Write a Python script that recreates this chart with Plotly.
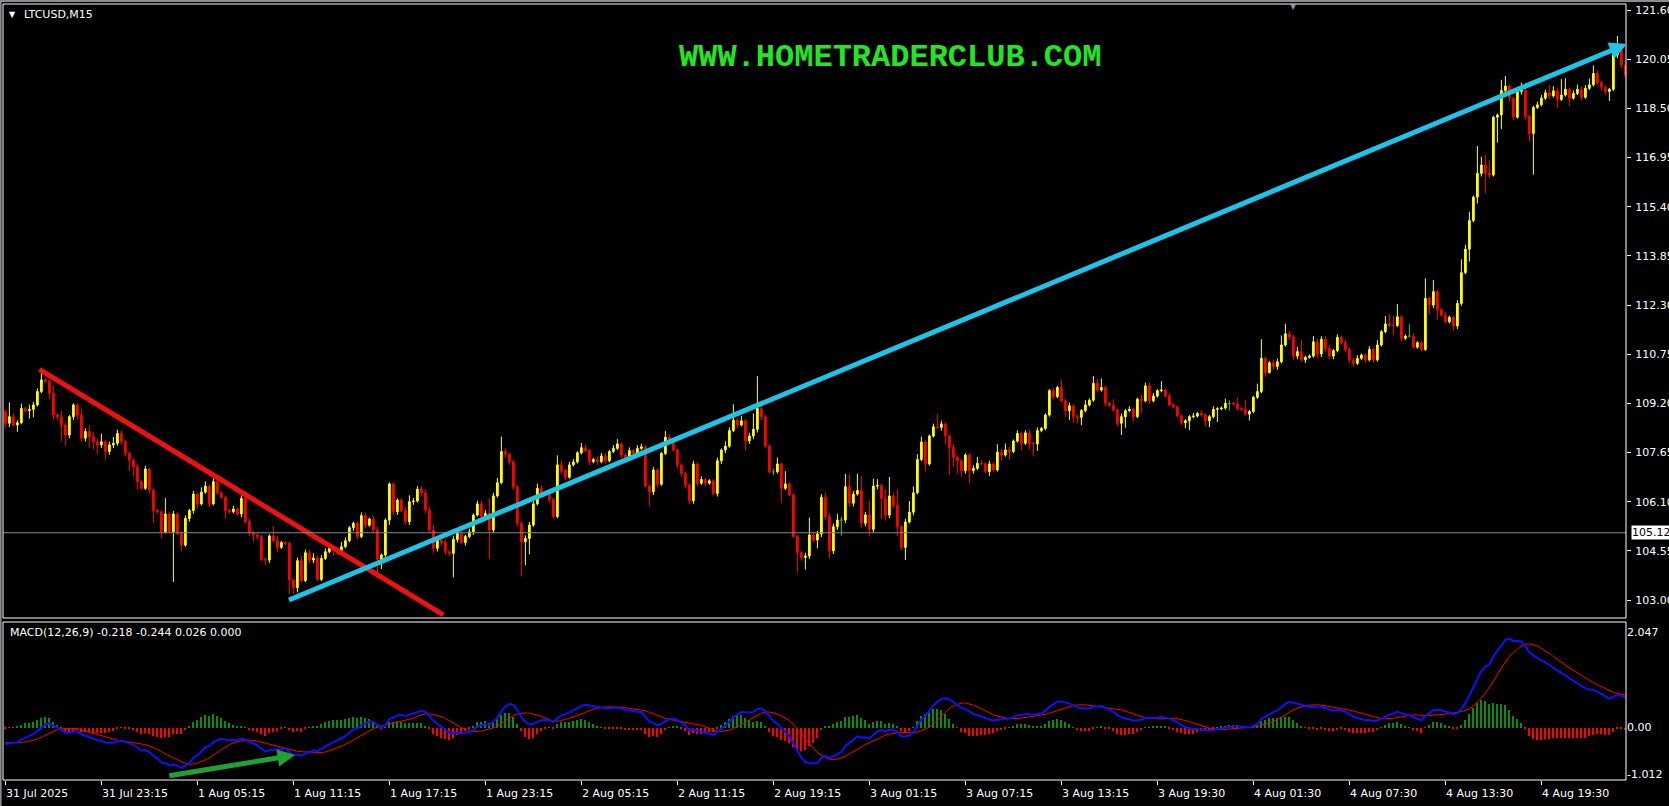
import plotly.graph_objects as go

# ---------------- data ----------------
close = [
    108.57,108.78,108.52,108.59,109.04,108.97,109.01,109.15,109.57,109.94,
    109.90,109.52,108.83,108.78,108.52,108.20,108.78,109.15,108.83,108.10,
    108.31,108.15,107.99,107.89,107.99,107.68,107.89,107.94,108.25,107.99,
    107.62,107.41,107.20,106.73,106.52,107.13,106.47,105.82,105.78,105.15,
    105.71,105.15,105.71,105.10,104.73,105.57,105.82,106.34,106.03,106.40,
    106.59,106.03,106.73,106.38,106.24,105.82,105.78,105.87,105.71,106.20,
    105.47,105.12,105.05,105.00,104.28,104.26,105.02,104.87,104.66,104.81,
    104.79,103.63,103.39,104.24,103.61,104.49,104.26,104.32,103.65,104.31,
    104.52,104.63,104.55,104.52,104.68,104.87,105.28,105.42,105.00,105.66,
    105.36,105.55,105.21,104.28,104.42,105.52,106.66,105.78,106.15,105.82,
    105.47,106.10,106.12,106.49,106.38,105.84,105.21,104.63,104.89,104.81,
    104.52,104.47,104.91,105.10,104.81,105.00,105.15,105.68,106.03,105.63,
    105.73,105.21,106.28,106.70,107.68,107.60,107.36,106.57,105.42,104.84,
    104.94,105.36,106.03,106.52,106.36,106.36,106.17,105.63,107.26,107.08,
    106.87,107.26,107.35,107.64,107.80,107.71,107.36,107.43,107.36,107.54,
    107.39,107.68,107.78,107.92,107.57,107.50,107.71,107.62,107.78,107.83,
    106.59,106.41,107.10,106.65,107.62,108.13,108.06,107.73,107.26,106.99,
    106.62,106.13,107.29,106.68,106.80,106.68,106.76,106.36,107.39,107.73,
    107.85,108.34,108.67,108.52,108.65,108.02,108.17,108.38,109.04,108.78,
    107.85,107.04,107.04,107.29,106.52,106.66,106.31,105.00,104.49,104.34,
    104.39,105.05,104.89,105.08,106.24,105.63,104.55,105.31,105.52,105.52,
    106.57,106.05,106.34,106.45,105.42,105.68,105.23,106.59,106.61,106.20,
    105.68,106.28,105.99,105.31,104.66,105.46,105.77,106.38,107.43,107.98,
    107.29,108.17,108.46,108.44,108.55,108.17,107.81,107.50,107.39,107.08,
    107.57,107.08,107.15,107.31,107.29,107.05,107.29,107.10,107.66,107.57,
    107.73,107.68,108.01,108.25,107.94,108.27,107.94,107.92,108.34,108.41,
    108.83,109.60,109.41,109.70,109.28,108.97,109.12,108.78,108.76,108.97,
    109.15,109.30,109.83,109.62,109.70,109.20,109.13,108.99,108.57,108.78,
    108.97,109.01,108.78,109.33,109.28,109.75,109.28,109.43,109.60,109.62,
    109.43,109.15,109.09,108.80,108.59,108.65,108.78,108.80,108.88,108.83,
    108.65,108.78,109.01,109.03,109.05,109.20,109.20,109.18,109.04,109.01,
    108.86,108.94,109.39,109.57,110.62,110.17,110.48,110.36,110.51,111.04,
    111.39,111.30,110.69,110.83,110.57,110.65,110.69,111.14,110.76,111.22,
    110.93,110.69,110.86,111.28,111.11,110.90,110.57,110.46,110.62,110.72,
    110.57,110.90,110.57,111.04,111.46,111.70,111.66,111.65,111.93,111.25,
    111.32,111.32,110.97,111.11,110.90,112.51,112.30,112.72,112.16,111.98,
    111.77,111.91,111.64,112.35,113.32,114.06,114.96,115.70,116.45,116.71,
    116.45,116.40,118.22,118.29,119.06,119.20,118.82,118.22,119.03,119.08,
    118.24,117.71,118.53,118.61,118.82,118.99,118.89,119.05,118.78,118.92,
    119.10,118.82,118.97,119.10,118.85,119.13,119.24,119.60,119.31,119.16,
    119.03,119.10,120.18,120.34,119.87,119.55,
]
upper_shadow = [
    0.05,0.45,0.10,0.08,0.15,0.05,0.15,0.10,0.10,0.21,
    0.05,0.05,0.25,0.05,0.18,0.05,0.05,0.05,0.05,0.20,
    0.10,0.20,0.15,0.10,0.25,0.05,0.10,0.20,0.12,0.10,
    0.05,0.05,0.05,0.10,0.05,0.10,0.05,0.05,0.05,0.05,
    0.50,0.05,0.10,0.05,0.05,0.10,0.05,0.10,0.05,0.15,
    0.15,0.05,0.10,0.05,0.05,0.05,0.05,0.10,0.05,0.10,
    0.05,0.10,0.05,0.05,0.05,0.05,0.05,0.30,0.15,0.05,
    0.05,0.05,0.05,0.10,0.15,0.10,0.10,0.15,0.10,0.10,
    0.10,0.05,0.05,0.10,0.15,0.10,0.05,0.05,0.05,0.10,
    0.10,0.05,0.10,0.10,0.05,0.05,0.05,0.05,0.05,0.05,
    0.10,0.20,0.10,0.10,0.10,0.10,0.10,0.15,0.10,0.10,
    0.10,0.05,0.10,0.05,0.10,0.05,0.10,0.05,0.10,0.10,
    0.10,0.48,0.10,0.15,0.47,0.10,0.05,0.05,0.05,0.05,
    0.10,0.10,0.10,0.15,0.10,0.05,0.05,0.05,0.30,0.15,
    0.05,0.10,0.10,0.05,0.15,0.10,0.05,0.05,0.10,0.10,
    0.10,0.05,0.10,0.15,0.05,0.05,0.10,0.05,0.10,0.10,
    0.05,0.05,0.10,0.05,0.05,0.20,0.10,0.05,0.05,0.05,
    0.05,0.05,0.10,0.05,0.10,0.05,0.05,0.05,0.10,0.05,
    0.15,0.10,0.50,0.10,0.15,0.05,0.10,0.50,1.02,0.10,
    0.05,0.05,0.10,0.20,0.05,0.40,0.05,0.05,0.05,0.05,
    0.10,0.55,0.10,0.10,0.10,0.15,0.10,0.10,0.20,0.10,
    0.40,0.40,0.10,0.53,0.45,0.10,0.45,0.24,0.20,0.05,
    0.30,0.60,0.10,0.50,0.05,0.10,0.35,0.20,0.17,0.17,
    0.05,0.05,0.10,0.40,0.10,0.05,0.05,0.10,0.05,0.05,
    0.05,0.05,0.10,0.20,0.10,0.05,0.10,0.05,0.25,0.10,
    0.20,0.10,0.05,0.10,0.05,0.08,0.10,0.05,0.10,0.05,
    0.05,0.05,0.10,0.05,0.25,0.05,0.10,0.05,0.05,0.05,
    0.15,0.05,0.23,0.15,0.28,0.05,0.05,0.20,0.05,0.10,
    0.05,0.10,0.05,0.05,0.15,0.10,0.10,0.10,0.05,0.28,
    0.05,0.10,0.05,0.05,0.05,0.05,0.05,0.10,0.05,0.10,
    0.05,0.05,0.10,0.05,0.05,0.15,0.10,0.05,0.20,0.05,
    0.30,0.05,0.05,0.25,0.60,0.05,0.05,0.10,0.10,0.30,
    0.32,0.10,0.05,0.15,0.37,0.05,0.05,0.18,0.10,0.10,
    0.10,0.10,0.05,0.10,0.05,0.10,0.05,0.05,0.10,0.05,
    0.05,0.10,0.05,0.15,0.05,0.25,0.30,0.30,0.40,0.05,
    0.05,0.38,0.10,0.05,0.05,0.63,0.05,0.37,0.05,0.05,
    0.10,0.05,0.05,0.10,0.42,0.14,0.28,0.05,0.86,0.26,
    0.32,0.40,0.05,0.05,0.34,0.32,0.05,0.05,0.15,0.23,
    0.23,0.05,0.05,0.10,0.10,0.10,0.25,0.15,0.10,0.50,
    0.35,0.05,0.10,0.15,0.10,0.10,0.20,0.25,0.10,0.05,
    0.05,0.05,0.10,0.44,0.10,0.05,
]
lower_shadow = [
    0.16,0.12,0.05,0.22,0.05,0.05,0.25,0.25,0.05,0.05,
    0.05,0.20,0.15,0.10,0.52,0.32,0.10,0.10,0.15,0.10,
    0.10,0.35,0.25,0.30,0.10,0.25,0.10,0.10,0.08,0.10,
    0.10,0.35,0.30,0.25,0.05,0.05,0.10,0.40,0.05,0.20,
    0.05,0.05,1.58,0.05,0.20,0.05,0.10,0.10,0.15,0.05,
    0.05,0.10,0.05,0.05,0.05,0.25,0.05,0.05,0.05,0.10,
    0.05,0.10,0.20,0.10,0.05,0.15,0.10,0.05,0.15,0.05,
    0.05,0.45,0.20,0.15,0.05,0.05,0.10,0.10,0.05,0.05,
    0.05,0.05,0.15,0.10,0.05,0.05,0.05,0.10,0.10,0.05,
    0.10,0.05,0.10,0.60,0.30,0.10,0.15,0.10,0.10,0.05,
    0.10,0.10,0.10,0.05,0.10,0.10,0.10,0.15,0.10,0.10,
    0.10,0.10,0.76,0.10,0.05,0.10,0.05,0.10,0.05,0.10,
    0.05,0.92,0.10,0.05,0.05,0.10,0.10,0.10,0.10,1.10,
    0.74,0.50,0.05,0.05,0.10,0.05,0.10,0.05,0.05,0.10,
    0.10,0.05,0.05,0.05,0.05,0.05,0.10,0.05,0.10,0.05,
    0.10,0.05,0.05,0.05,0.10,0.10,0.05,0.05,0.05,0.05,
    0.05,0.45,0.10,0.10,0.05,0.05,0.05,0.05,0.10,0.10,
    0.10,0.10,0.10,0.10,0.05,0.10,0.05,0.05,0.10,0.10,
    0.10,0.05,0.05,0.10,0.05,0.30,0.10,0.10,0.10,0.10,
    0.05,0.05,0.10,0.05,0.47,0.05,0.05,0.05,0.63,0.10,
    0.38,0.10,0.05,0.26,0.10,0.10,0.24,0.10,0.10,0.50,
    0.10,0.10,0.10,0.05,0.16,0.10,0.23,0.10,0.10,0.66,
    0.18,0.10,0.10,0.30,0.10,0.40,0.05,0.10,0.05,0.05,
    0.24,0.05,0.05,0.05,0.10,0.25,0.87,0.30,0.42,0.20,
    0.10,0.40,0.10,0.05,0.05,0.05,0.14,0.05,0.05,0.18,
    0.05,0.26,0.05,0.05,0.23,0.05,0.20,0.40,0.22,0.05,
    0.05,0.05,0.08,0.05,0.05,0.20,0.30,0.20,0.18,0.25,
    0.05,0.05,0.05,0.08,0.05,0.10,0.03,0.05,0.10,0.37,
    0.35,0.05,0.16,0.05,0.40,0.05,0.10,0.05,0.05,0.05,
    0.04,0.05,0.05,0.05,0.07,0.18,0.30,0.05,0.05,0.05,
    0.18,0.20,0.05,0.40,0.05,0.05,0.23,0.05,0.07,0.05,
    0.05,0.20,0.05,0.05,0.05,0.13,0.03,0.10,0.10,0.05,
    0.05,0.10,0.13,0.10,0.05,0.10,0.05,0.05,0.14,0.10,
    0.10,0.10,0.10,0.05,0.05,0.10,0.10,0.10,0.05,0.05,
    0.10,0.05,0.10,0.05,0.05,0.05,0.05,0.30,0.05,0.10,
    0.05,0.04,0.05,0.05,0.05,0.05,0.30,0.10,0.34,0.05,
    0.05,0.05,0.15,0.10,0.08,0.05,0.39,0.05,0.20,0.10,
    0.63,0.10,0.05,0.80,0.44,0.10,0.10,0.10,0.05,0.10,
    0.10,0.26,1.30,0.05,0.05,0.05,0.10,0.05,0.28,0.05,
    0.05,0.24,0.05,0.05,0.10,0.05,0.05,0.05,0.05,0.10,
    0.10,0.30,0.05,0.10,0.10,0.10,
]
first_open = 108.94
doji_bars = [135, 192, 209, 306, 351]

time_tick_bars = [0, 24, 48, 72, 96, 120, 144, 168, 192, 216, 240, 264, 288, 312, 336, 360, 384]
time_tick_labels = ["31 Jul 2025", "31 Jul 23:15", "1 Aug 05:15", "1 Aug 11:15", "1 Aug 17:15",
                    "1 Aug 23:15", "2 Aug 05:15", "2 Aug 11:15", "2 Aug 19:15", "3 Aug 01:15",
                    "3 Aug 07:15", "3 Aug 13:15", "3 Aug 19:30", "4 Aug 01:30", "4 Aug 07:30",
                    "4 Aug 13:30", "4 Aug 19:30"]
price_ticks = [103.00, 104.55, 106.10, 107.65, 109.20, 110.75, 112.30, 113.85,
               115.40, 116.95, 118.50, 120.05, 121.60]
macd_ticks = [2.047, 0.0, -1.012]
macd_tick_text = ["2.047", "0.00", "-1.012"]
current_price = 105.12

# hand-drawn objects (bar index, price / indicator value)
red_trend_bars = [8.5, 109.5]
red_trend_prices = [110.27, 102.53]
blue_arrow_bars = [70.5, 405.4]
blue_arrow_prices = [102.98, 120.53]
green_arrow_bars = [40.6, 72.4]
green_arrow_values = [-1.045, -0.593]

# MACD(12,26,9) settings and state carried in from bars before the window
fast_len, slow_len, signal_len = 12, 26, 9
ema_fast_start = 108.75
ema_slow_start = 109.13
macd_before_start = -0.32

# ---------------- derived series ----------------
n = len(close)
bars = list(range(n))
opens = [first_open] + close[:-1]
highs = [max(o, c) + u for o, c, u in zip(opens, close, upper_shadow)]
lows = [min(o, c) - d for o, c, d in zip(opens, close, lower_shadow)]

af, aslw = 2.0 / (fast_len + 1), 2.0 / (slow_len + 1)
ef, es = ema_fast_start, ema_slow_start
macd_main = []
for c in close:
    ef += af * (c - ef)
    es += aslw * (c - es)
    macd_main.append(ef - es)
ext = [macd_before_start] * (signal_len - 1) + macd_main
macd_signal = [sum(ext[i:i + signal_len]) / signal_len for i in range(n)]
macd_hist = [m - s for m, s in zip(macd_main, macd_signal)]

# ---------------- figure ----------------
W, H = 1669, 806
ML, MR, MT, MB = 3, 43, 4, 26
PW, PH = W - ML - MR, H - MT - MB
main_dom = [(780 - 618) / PH, 1.0]
macd_dom = [0.0, (780 - 622) / PH]
xr = [-0.6, 405.15]


def px(xpix):
    return (xpix - ML) / PW


def py(ypix):
    return (H - MB - ypix) / PH


FONT = "DejaVu Sans"
YEL, RED, GRN = "#FFFF00", "#FF0000", "#22CC22"

norm = [i for i in bars if i not in doji_bars]
fig = go.Figure()
fig.add_trace(go.Candlestick(
    x=norm, open=[opens[i] for i in norm], high=[highs[i] for i in norm],
    low=[lows[i] for i in norm], close=[close[i] for i in norm],
    increasing=dict(line=dict(color=YEL, width=1), fillcolor=YEL),
    decreasing=dict(line=dict(color=RED, width=1), fillcolor=RED),
    whiskerwidth=0, hoverinfo="skip", xaxis="x", yaxis="y", showlegend=False))
fig.add_trace(go.Candlestick(
    x=doji_bars, open=[opens[i] for i in doji_bars], high=[highs[i] for i in doji_bars],
    low=[lows[i] for i in doji_bars], close=[close[i] for i in doji_bars],
    increasing=dict(line=dict(color=GRN, width=1), fillcolor=GRN),
    decreasing=dict(line=dict(color=GRN, width=1), fillcolor=GRN),
    whiskerwidth=0, hoverinfo="skip", xaxis="x", yaxis="y", showlegend=False))

# red down trend line
fig.add_trace(go.Scatter(x=red_trend_bars, y=red_trend_prices, mode="lines",
                         line=dict(color="#EE1111", width=5), hoverinfo="skip",
                         xaxis="x", yaxis="y", showlegend=False))

# MACD histogram + lines
fig.add_trace(go.Bar(x=bars, y=macd_hist, width=0.5,
                     marker=dict(color=["#0C8C0C" if h >= 0 else RED for h in macd_hist], line=dict(width=0)),
                     hoverinfo="skip", xaxis="x2", yaxis="y2", showlegend=False))
fig.add_trace(go.Scatter(x=bars, y=macd_signal, mode="lines", line=dict(color=RED, width=1),
                         hoverinfo="skip", xaxis="x2", yaxis="y2", showlegend=False))
fig.add_trace(go.Scatter(x=bars, y=macd_main, mode="lines", line=dict(color="#1010FF", width=2),
                         hoverinfo="skip", xaxis="x2", yaxis="y2", showlegend=False))

annotations = []
annotations.append(dict(x=blue_arrow_bars[1], y=blue_arrow_prices[1], xref="x", yref="y",
                        ax=blue_arrow_bars[0], ay=blue_arrow_prices[0], axref="x", ayref="y",
                        text="", showarrow=True, arrowhead=2, arrowsize=0.7, arrowwidth=5,
                        arrowcolor="#1CC4E8", standoff=0, startstandoff=0))
annotations.append(dict(x=green_arrow_bars[1], y=green_arrow_values[1], xref="x2", yref="y2",
                        ax=green_arrow_bars[0], ay=green_arrow_values[0], axref="x2", ayref="y2",
                        text="", showarrow=True, arrowhead=2, arrowsize=0.7, arrowwidth=5,
                        arrowcolor="#22A033", standoff=0, startstandoff=0))
for b, lab in zip(time_tick_bars, time_tick_labels):
    annotations.append(dict(x=b, y=py(793), xref="x2", yref="paper", text=lab,
                            showarrow=False, xanchor="left", yanchor="middle", xshift=-1,
                            font=dict(family=FONT, size=11, color="#FFFFFF")))
annotations.append(dict(x=1, y=current_price, xref="paper", yref="y", text="105.12",
                        showarrow=False, xanchor="left", yanchor="middle", xshift=5,
                        bgcolor="#FFFFFF", borderpad=0,
                        font=dict(family=FONT, size=11, color="#000000")))
annotations.append(dict(x=px(12), y=py(14.5), xref="paper", yref="paper",
                        text="▼", showarrow=False, xanchor="center", yanchor="middle",
                        font=dict(family=FONT, size=8, color="#FFFFFF")))
annotations.append(dict(x=px(22), y=py(14.5), xref="paper", yref="paper",
                        text="LTCUSD,M15", showarrow=False, xanchor="left", yanchor="middle",
                        font=dict(family=FONT, size=11, color="#FFFFFF")))
annotations.append(dict(x=px(8), y=py(632), xref="paper", yref="paper",
                        text="MACD(12,26,9) -0.218 -0.244 0.026 0.000", showarrow=False,
                        xanchor="left", yanchor="middle",
                        font=dict(family=FONT, size=11, color="#FFFFFF")))
annotations.append(dict(x=px(890), y=py(57.5), xref="paper", yref="paper",
                        text="<b>WWW.HOMETRADERCLUB.COM</b>", showarrow=False,
                        xanchor="center", yanchor="middle",
                        font=dict(family="Liberation Mono", size=32, color="#22E622")))
annotations.append(dict(x=px(1293), y=py(7), xref="paper", yref="paper",
                        text="▼", showarrow=False, xanchor="center", yanchor="middle",
                        font=dict(family=FONT, size=8, color="#8A9AAA")))

shapes = [
    dict(type="line", xref="paper", yref="y", x0=0, x1=1, y0=current_price, y1=current_price,
         line=dict(color="#7D8A99", width=1)),
    dict(type="rect", xref="paper", yref="paper", x0=0, x1=1, y0=main_dom[0], y1=main_dom[1],
         line=dict(color="#FFFFFF", width=1)),
    dict(type="rect", xref="paper", yref="paper", x0=0, x1=1, y0=macd_dom[0], y1=macd_dom[1],
         line=dict(color="#FFFFFF", width=1)),
    # window frame (grey edge at top and left)
    dict(type="rect", xref="paper", yref="paper", x0=px(0), x1=px(W), y0=py(2), y1=py(0),
         line=dict(width=0), fillcolor="#8C8C8C", layer="above"),
    dict(type="rect", xref="paper", yref="paper", x0=px(0), x1=px(1.6), y0=py(H), y1=py(0),
         line=dict(width=0), fillcolor="#8C8C8C", layer="above"),
]

axis_common = dict(showgrid=False, zeroline=False, showline=False)
fig.update_layout(
    width=W, height=H, margin=dict(l=ML, r=MR, t=MT, b=MB, autoexpand=False),
    paper_bgcolor="#000000", plot_bgcolor="#000000",
    boxgap=0.4, bargap=0,
    showlegend=False, hovermode=False,
    xaxis=dict(domain=[0, 1], range=xr, anchor="y", showticklabels=False, ticks="",
               rangeslider=dict(visible=False), fixedrange=True, **axis_common),
    yaxis=dict(domain=main_dom, range=[102.4325, 121.789], side="right", anchor="x",
               tickvals=price_ticks, ticktext=["%.2f" % v for v in price_ticks],
               ticks="outside", ticklen=4, tickcolor="#FFFFFF", tickwidth=1, ticklabelstandoff=2,
               tickfont=dict(family=FONT, size=11, color="#FFFFFF"), fixedrange=True, **axis_common),
    xaxis2=dict(domain=[0, 1], range=xr, anchor="y2", tickvals=time_tick_bars,
                showticklabels=False, ticks="outside", ticklen=4, tickcolor="#FFFFFF", tickwidth=1,
                rangeslider=dict(visible=False), fixedrange=True, **axis_common),
    yaxis2=dict(domain=macd_dom, range=[-1.131, 2.274], side="right", anchor="x2",
                tickvals=macd_ticks, ticktext=macd_tick_text, ticks="",
                tickfont=dict(family=FONT, size=11, color="#FFFFFF"), fixedrange=True, **axis_common),
    annotations=annotations, shapes=shapes,
)

fig.write_html("out.html", config={"displayModeBar": False},
               post_script="document.body.style.margin='0px';document.body.style.overflow='hidden';")
